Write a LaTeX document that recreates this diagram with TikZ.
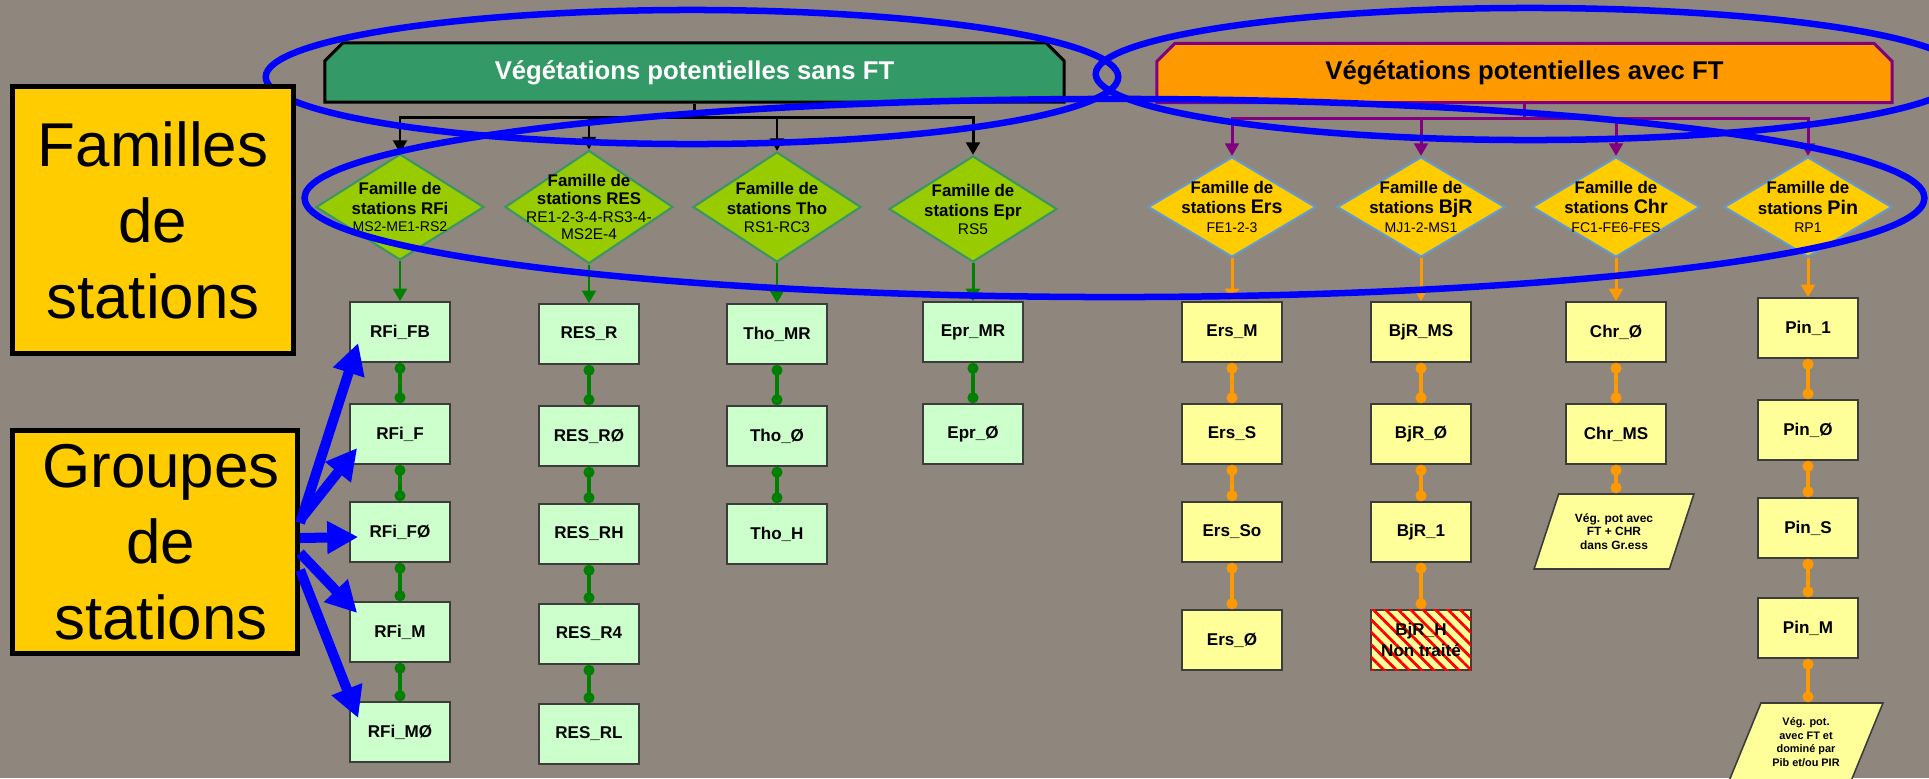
\documentclass[tikz,border=0pt]{standalone}
\usepackage{fontspec}
\setmainfont{Liberation Sans}
\usetikzlibrary{shapes.geometric,shapes.misc,arrows.meta,patterns.meta}
\definecolor{fond}{RGB}{143,135,126}
\definecolor{vertfonce}{RGB}{51,153,102}
\definecolor{vertclair}{RGB}{204,255,204}
\definecolor{vertpomme}{RGB}{153,204,0}
\definecolor{orangeft}{RGB}{255,153,0}
\definecolor{jaunefam}{RGB}{255,204,0}
\definecolor{jauneclair}{RGB}{255,255,153}
\definecolor{pourpre}{RGB}{128,0,128}
\definecolor{bordbleu}{RGB}{102,153,204}
\definecolor{bordvert}{RGB}{60,150,100}
\definecolor{bordgris}{RGB}{60,60,60}
\definecolor{trait}{RGB}{0,128,0}
\newcommand\szf[2]{\fontsize{#1}{#2}\selectfont}
\begin{document}
\begin{tikzpicture}[x=0.01cm,y=-0.01cm,
  bandeau/.style={chamfered rectangle,chamfered rectangle corners={north west,north east},
    chamfered rectangle xsep=0.09cm,chamfered rectangle ysep=0.09cm,line width=0.85pt,
    inner sep=0pt,minimum height=0.59cm,font=\szf{7.3}{8.8}\bfseries},
  grand/.style={draw=black,line width=1.4pt,fill=jaunefam,align=center,inner sep=0pt,
    font=\szf{17.6}{21.6}},
  famg/.style={diamond,draw=bordvert,fill=vertpomme,line width=0.6pt,inner sep=0pt,
    minimum width=1.68cm,minimum height=1.06cm},
  famd/.style={famg,draw=bordbleu,fill=jaunefam,minimum height=1cm},
  famtxt/.style={align=center,inner sep=0pt,font=\szf{4.8}{5.7}\bfseries},
  groupe/.style={draw=bordgris,fill=vertclair,line width=0.45pt,minimum width=1cm,
    minimum height=0.6cm,inner sep=0pt,align=center,font=\szf{4.85}{5.8}\bfseries},
  groupej/.style={groupe,fill=jauneclair},
  vegpot/.style={trapezium,trapezium left angle=64,trapezium right angle=116,
    trapezium stretches=true,draw=bordgris,fill=jauneclair,line width=0.45pt,
    inner sep=0pt,align=center},
  fnoir/.style={draw=black,line width=0.85pt},
  fviolet/.style={draw=pourpre,line width=0.85pt},
  pointe/.style={-{Triangle[length=3.6pt,width=3.9pt]}},
  lienv/.style={draw=trait,line width=0.95pt,{Circle[length=3.1pt]}-{Circle[length=3.1pt]}},
  lieno/.style={lienv,draw=orangeft},
  flv/.style={draw=trait,line width=0.85pt,pointe},
  flo/.style={flv,draw=orangeft},
  bleu/.style={draw=blue,line width=2.85pt,-{Triangle[length=8.8pt,width=8.8pt]}},
  ovale/.style={draw=blue,line width=1.85pt}]

  \useasboundingbox (0,0) rectangle (1929,778);
  \fill[fond] (0,0) rectangle (1929,778);

  \node[bandeau,draw=black,fill=vertfonce,text=white,minimum width=7.39cm] (vsans)
    at (694.5,72.5) {Végétations potentielles sans FT};
  \node[bandeau,draw=pourpre,fill=orangeft,minimum width=7.35cm] (vavec)
    at (1524.5,73) {Végétations potentielles avec FT};

  \node[famg] (dRFi) at (400,207) {};
  \node[famtxt] (tRFi) at (dRFi) {Famille de\\stations RFi\\[-0.85pt]{\szf{4}{4.8}\mdseries MS2-ME1-RS2}};
  \node[famg,minimum height=1.13cm] (dRES) at (589,207) {};
  \node[famtxt,font=\szf{4.8}{5.1}\bfseries] (tRES) at (dRES)
    {Famille de\\stations RES\\{\szf{4.4}{5.1}\mdseries RE1-2-3-4-RS3-4-}\\{\szf{4.4}{5.1}\mdseries MS2E-4}};
  \node[famg,minimum height=1.1cm] (dTho) at (777,207) {};
  \node[famtxt] (tTho) at (dTho) {Famille de\\stations Tho\\[-0.6pt]{\szf{4.4}{5}\mdseries RS1-RC3}};
  \node[famg] (dEpr) at (973,209) {};
  \node[famtxt] (tEpr) at (dEpr) {Famille de\\stations Epr\\[-0.6pt]{\szf{4.4}{5}\mdseries RS5}};

  \node[famd] (dErs) at (1232,207) {};
  \node[famtxt,font=\szf{4.8}{5.9}\bfseries] (tErs) at (dErs)
    {Famille de\\stations {\szf{5.6}{5.9}Ers}\\[-0.5pt]{\szf{4}{4.8}\mdseries FE1-2-3}};
  \node[famd] (dBjR) at (1421,207) {};
  \node[famtxt,font=\szf{4.8}{5.9}\bfseries] (tBjR) at (dBjR)
    {Famille de\\stations {\szf{5.6}{5.9}BjR}\\[-0.5pt]{\szf{4}{4.8}\mdseries MJ1-2-MS1}};
  \node[famd] (dChr) at (1616,207) {};
  \node[famtxt,font=\szf{4.8}{5.9}\bfseries] (tChr) at (dChr)
    {Famille de\\stations {\szf{5.6}{5.9}Chr}\\[-0.5pt]{\szf{4}{4.8}\mdseries FC1-FE6-FES}};
  \node[famd] (dPin) at (1808,207) {};
  \node[famtxt,font=\szf{4.8}{5.9}\bfseries] (tPin) at (dPin)
    {Famille de\\stations {\szf{5.6}{5.9}Pin}\\[-0.5pt]{\szf{4}{4.8}\mdseries RP1}};

  \coordinate (jsans) at (694.5,117);
  \coordinate (javec) at (1524.5,118);
  \draw[fnoir] (vsans.south) -- (jsans);
  \foreach \f in {dRFi,dRES,dTho,dEpr}
    \draw[fnoir,pointe] (jsans) -| (\f.north);
  \draw[fviolet] (vavec.south) -- (javec);
  \foreach \f in {dErs,dBjR,dChr,dPin}
    \draw[fviolet,pointe] (javec) -| (\f.north);

  \node[groupe] (RFiFB) at (400,332) {RFi\_FB};
  \node[groupe] (RFiF) at (400,434) {RFi\_F};
  \node[groupe] (RFiFO) at (400,532) {RFi\_FØ};
  \node[groupe] (RFiM) at (400,632) {RFi\_M};
  \node[groupe] (RFiMO) at (400,732) {RFi\_MØ};

  \node[groupe] (RESR) at (589,334) {RES\_R};
  \node[groupe] (RESRO) at (589,436) {RES\_RØ};
  \node[groupe] (RESRH) at (589,534) {RES\_RH};
  \node[groupe] (RESR4) at (589,634) {RES\_R4};
  \node[groupe] (RESRL) at (589,734) {RES\_RL};

  \node[groupe] (ThoMR) at (777,334) {Tho\_MR};
  \node[groupe] (ThoO) at (777,436) {Tho\_Ø};
  \node[groupe] (ThoH) at (777,534) {Tho\_H};

  \node[groupe] (EprMR) at (973,332) {Epr\_MR};
  \node[groupe] (EprO) at (973,434) {Epr\_Ø};

  \node[groupej] (ErsM) at (1232,332) {Ers\_M};
  \node[groupej] (ErsS) at (1232,434) {Ers\_S};
  \node[groupej] (ErsSo) at (1232,532) {Ers\_So};
  \node[groupej] (ErsO) at (1232,640) {Ers\_Ø};

  \node[groupej] (BjRMS) at (1421,332) {BjR\_MS};
  \node[groupej] (BjRO) at (1421,434) {BjR\_Ø};
  \node[groupej] (BjR1) at (1421,532) {BjR\_1};
  \node[groupej,postaction={pattern={Lines[angle=-45,distance=2.5pt,line width=0.8pt]},pattern color=red}]
    (BjRH) at (1421,640) {BjR\_H\\Non traité};

  \node[groupej] (ChrO) at (1616,332) {Chr\_Ø};
  \node[groupej] (ChrMS) at (1616,434) {Chr\_MS};
  \node[vegpot,minimum width=1.6cm,minimum height=0.75cm,font=\szf{3.4}{3.8}\bfseries]
    (vChr) at (1614,531.5) {Vég. pot avec\\FT + CHR\\dans Gr.ess};

  \node[groupej] (Pin1) at (1808,328) {Pin\_1};
  \node[groupej] (PinO) at (1808,430) {Pin\_Ø};
  \node[groupej] (PinS) at (1808,528) {Pin\_S};
  \node[groupej] (PinM) at (1808,628) {Pin\_M};
  \node[vegpot,minimum width=1.54cm,minimum height=0.78cm,font=\szf{3.1}{3.85}\bfseries]
    (vPin) at (1806,742) {Vég. pot.\\avec FT et\\dominé par\\Pib et/ou PIR};

  \foreach \a/\b in {dRFi/RFiFB,dRES/RESR,dTho/ThoMR,dEpr/EprMR}
    \draw[flv] (\a.south) -- (\b.north);
  \foreach \a/\b in {dErs/ErsM,dBjR/BjRMS,dChr/ChrO,dPin/Pin1}
    \draw[flo] (\a.south) -- (\b.north);

  \foreach \a/\b in {RFiFB/RFiF,RFiF/RFiFO,RFiFO/RFiM,RFiM/RFiMO,
                     RESR/RESRO,RESRO/RESRH,RESRH/RESR4,RESR4/RESRL,
                     ThoMR/ThoO,ThoO/ThoH,EprMR/EprO}
    \draw[lienv] (\a.south) -- (\b.north);
  \foreach \a/\b in {ErsM/ErsS,ErsS/ErsSo,ErsSo/ErsO,
                     BjRMS/BjRO,BjRO/BjR1,BjR1/BjRH,
                     ChrO/ChrMS,Pin1/PinO,PinO/PinS,PinS/PinM}
    \draw[lieno] (\a.south) -- (\b.north);
  \draw[lieno] (ChrMS.south) -- (ChrMS.south |- vChr.north);
  \draw[lieno] (PinM.south) -- (PinM.south |- vPin.north);

  \draw[ovale] (692,77) ellipse [x radius=4.26cm, y radius=0.67cm];
  \draw[ovale] (1530,74) ellipse [x radius=4.34cm, y radius=0.66cm];
  \draw[ovale] (1114.5,198) ellipse [x radius=8.095cm, y radius=0.99cm];

  \node[grand,minimum width=2.81cm,minimum height=2.67cm] (fam) at (153,220)
    {Familles\\de\\stations};
  \node[grand,minimum width=2.85cm,minimum height=2.23cm] (grp) at (155,542)
    {\hspace*{0.12cm}Groupes\\\hspace*{0.12cm}de\\\hspace*{0.12cm}stations};

  \draw[bleu] ([yshift=0.19cm]grp.east) -- ([xshift=0.09cm,yshift=-0.11cm]RFiFB.west);
  \draw[bleu] ([yshift=0.22cm]grp.east) -- ([xshift=0.08cm,yshift=-0.14cm]RFiF.west);
  \draw[bleu] ([yshift=0.04cm]grp.east) -- ([xshift=0.09cm,yshift=-0.05cm]RFiFO.west);
  \draw[bleu] ([yshift=-0.11cm]grp.east) -- ([xshift=0.08cm,yshift=0.19cm]RFiM.west);
  \draw[bleu] ([yshift=-0.28cm]grp.east) -- ([xshift=0.09cm,yshift=0.14cm]RFiMO.west);
\end{tikzpicture}
\end{document}
